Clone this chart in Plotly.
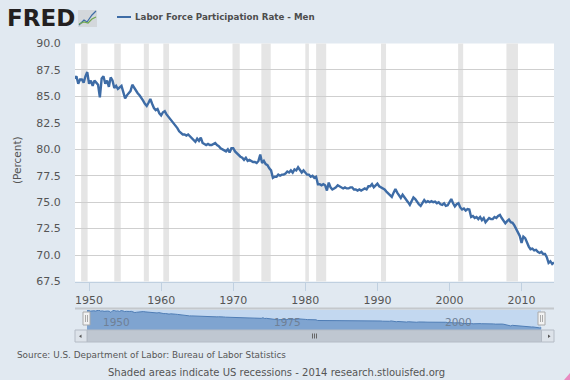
import plotly.graph_objects as go

W, H = 570, 380
START_YEAR = 1948
rate = [
 86.7,86.9,86.2,86.6, 86.6,86.3,86.9,87.3, 86.2,86.5,86.0,86.5, 86.3,86.1,84.9,86.7,
 86.9,86.2,86.5,85.9, 86.8,86.5,85.8,86.0, 85.7,85.9,86.0,85.4, 84.8,85.1,85.3,85.5,
 86.1,85.8,85.5,85.3, 85.1,84.9,84.6,84.3, 84.1,84.4,84.75,84.3, 83.9,83.7,83.8,83.4,
 83.2,83.5,83.6,83.3, 83.1,82.9,82.6,82.5, 82.3,82.0,81.7,81.5, 81.4,81.4,81.3,81.4,
 81.2,81.0,80.9,80.7, 81.0,80.8,81.1,80.6, 80.5,80.4,80.5,80.4, 80.4,80.5,80.6,80.4,
 80.3,80.1,80.0,79.9, 79.8,80.0,79.7,80.1, 80.1,79.8,79.6,79.4, 79.3,79.2,79.0,79.2,
 78.9,79.0,78.9,78.8, 78.8,78.7,78.9,79.5, 78.7,78.9,78.6,78.5, 78.2,78.0,77.3,77.4,
 77.4,77.6,77.5,77.6, 77.6,77.7,77.9,77.8, 78.0,77.8,78.1,78.0, 78.3,78.0,77.8,78.0,
 77.8,77.6,77.6,77.4, 77.5,77.3,77.4,76.7, 76.7,76.6,76.7,76.6, 76.1,76.85,76.4,76.2,
 76.3,76.4,76.6,76.5, 76.4,76.3,76.4,76.3, 76.3,76.4,76.4,76.2, 76.2,76.1,76.2,76.1,
 76.2,76.3,76.2,76.5, 76.5,76.7,76.4,76.6, 76.75,76.5,76.4,76.3, 76.2,76.0,75.8,75.6,
 75.5,75.9,76.25,75.9, 75.6,75.4,75.7,75.5, 75.2,75.0,74.75,75.1, 75.45,75.3,75.0,74.8,
 74.65,74.9,75.2,75.0, 75.1,75.0,75.1,75.0, 75.05,74.9,75.0,74.8, 74.75,74.9,74.65,74.7,
 75.0,75.3,74.9,74.6, 74.8,74.9,74.5,74.3, 74.4,74.2,74.35,74.3, 73.6,73.7,73.5,73.6,
 73.4,73.6,73.3,73.5, 73.1,73.3,73.5,73.4, 73.4,73.6,73.5,73.7, 73.8,73.5,73.2,73.0,
 73.2,73.35,73.1,73.05, 72.8,72.5,72.2,71.8, 71.15,71.75,71.6,71.1, 70.8,70.55,70.6,70.45,
 70.5,70.3,70.2,70.3, 70.1,70.1,69.8,69.25, 69.4,69.15,69.3,
]
years = [START_YEAR + i / 4 for i in range(len(rate))]
recession_start = [1948.9,1953.5,1957.6,1960.3,1969.9,1973.9,1980.0,1981.5,1990.5,2001.2,2007.9]
recession_end   = [1949.8,1954.4,1958.3,1961.1,1970.9,1975.2,1980.5,1982.9,1991.2,2001.9,2009.5]
x_ticks = [1950,1960,1970,1980,1990,2000,2010]
y_ticks = [67.5,70,72.5,75,77.5,80,82.5,85,87.5,90]
nav_ticks = [1950,1975,2000]
series_name = "Labor Force Participation Rate - Men"
source_text = "Source: U.S. Department of Labor: Bureau of Labor Statistics"
note_text = "Shaded areas indicate US recessions - 2014 research.stlouisfed.org"

BG = "#E1E9F1"; LINE = "#3E6CA6"; TXT = "#555555"; FONT = "DejaVu Sans"
px = lambda x: x / W
py = lambda y: 1 - y / H

fig = go.Figure()
fig.add_trace(go.Scatter(x=years, y=rate, mode="lines", name=series_name,
                         line=dict(color=LINE, width=2.4), showlegend=False))
fig.add_trace(go.Scatter(x=years, y=rate, mode="lines", xaxis="x2", yaxis="y2", showlegend=False,
                         line=dict(color="#4F7DB5", width=1), fill="tozeroy", fillcolor="#7FA4D0"))

shapes = []
for a, b in zip(recession_start, recession_end):
    shapes.append(dict(type="rect", xref="x", yref="y domain", x0=a, x1=b, y0=0, y1=1,
                       fillcolor="#E5E5E5", line_width=0, layer="below"))

def rect(x0, y0, x1, y1, fill, line=None, layer="above"):
    shapes.append(dict(type="rect", xref="paper", yref="paper", x0=px(x0), x1=px(x1), y0=py(y1), y1=py(y0),
                       fillcolor=fill, line=dict(color=line or fill, width=1 if line else 0), layer=layer))
def seg(x0, y0, x1, y1, color, width=1):
    shapes.append(dict(type="line", xref="paper", yref="paper", x0=px(x0), x1=px(x1), y0=py(y0), y1=py(y1),
                       line=dict(color=color, width=width)))
def poly(points, color=None, fill=None, width=1.2):
    path = "M " + " L ".join(f"{px(a):.5f},{py(b):.5f}" for a, b in points)
    if fill:
        path += " Z"
    shapes.append(dict(type="path", xref="paper", yref="paper", path=path, fillcolor=fill or "rgba(0,0,0,0)",
                       line=dict(color=color or "rgba(0,0,0,0)", width=width if color else 0)))

# navigator selection band
shapes.append(dict(type="rect", xref="x2", yref="y2 domain", x0=1948, x1=2014.5, y0=0, y1=1,
                   fillcolor="#C3D8F0", line_width=0, layer="below"))
seg(75, 308.5, 554, 308.5, "#C4C8CC", 2)
# scrollbar
rect(87, 330, 541.5, 342, "#BFC7D1", "#B4BBC5")
rect(75, 330, 87, 342, "#DDE3EA", "#B4BBC5")
rect(541.5, 330, 554, 342, "#DDE3EA", "#B4BBC5")
poly([(81.5, 334.5), (79, 336.3), (81.5, 338)], fill="#555555")
poly([(548, 334.5), (550.5, 336.3), (548, 338)], fill="#555555")
for gx in (312.5, 314.5, 316.5):
    seg(gx, 333.5, gx, 338.5, "#666666")
# navigator handles
for hx in (86.5, 541.5):
    rect(hx - 3.5, 312, hx + 3.5, 325, "#F2F2F2", "#AAAAAA")
    seg(hx - 1, 315, hx - 1, 322, "#AAAAAA")
    seg(hx + 1, 315, hx + 1, 322, "#AAAAAA")
# logo chart icon
rect(78, 10, 97, 27, "#D3D7DB")
poly([(79, 25), (84, 20), (87, 22), (92, 15), (96, 11)], color="#3E6CA6")
poly([(79, 24), (84, 22), (88, 23), (92, 19), (96, 17)], color="#6FA84F")
# legend key
seg(117, 17, 131, 17, LINE, 2)
# corner mark
poly([(564, 380), (570, 373), (570, 380)], fill="#E98AC0")

annotations = [
    dict(text="FRED", x=px(5), y=py(18), xref="paper", yref="paper", xanchor="left", yanchor="middle",
         showarrow=False, font=dict(family=FONT, size=23, color="#231F20", weight=700)),
    dict(text=series_name, x=px(133), y=py(17), xref="paper", yref="paper", xanchor="left", yanchor="middle",
         showarrow=False, font=dict(family=FONT, size=8.7, color="#4D4D4D", weight=700)),
    dict(text=source_text, x=px(15), y=py(355), xref="paper", yref="paper", xanchor="left", yanchor="middle",
         showarrow=False, font=dict(family=FONT, size=8.85, color=TXT)),
    dict(text=note_text, x=px(106), y=py(372), xref="paper", yref="paper", xanchor="left", yanchor="middle",
         showarrow=False, font=dict(family=FONT, size=10, color=TXT)),
    dict(text="(Percent)", x=px(17), y=py(160), xref="paper", yref="paper", xanchor="center", yanchor="middle",
         textangle=-90, showarrow=False, font=dict(family=FONT, size=10.5, color=TXT)),
]
for t in nav_ticks:
    annotations.append(dict(text=str(t), x=t, y=0.38, xref="x2", yref="y2 domain", xshift=16, xanchor="center",
                            yanchor="middle", showarrow=False, font=dict(family=FONT, size=10.5, color="#6F8095")))

fig.update_layout(
    width=W, height=H, autosize=False, margin=dict(l=0, r=0, t=0, b=0, autoexpand=False),
    paper_bgcolor=BG, plot_bgcolor="#FFFFFF", showlegend=False,
    font=dict(family=FONT, color=TXT, size=11),
    shapes=shapes, annotations=annotations,
    xaxis=dict(domain=[px(75), px(554)], range=[1948.05, 2014.5], anchor="y", tickvals=x_ticks,
               ticks="outside", ticklen=8, tickcolor="#C0D0E0", tickwidth=1, showgrid=False,
               showline=True, linecolor="#C0D0E0", linewidth=1, zeroline=False,
               tickfont=dict(family=FONT, size=11, color=TXT)),
    yaxis=dict(domain=[py(281.5), py(43.5)], range=[67.5, 90], anchor="x", tickvals=y_ticks, tickformat=".1f",
               ticks="outside", ticklen=11, tickcolor="rgba(0,0,0,0)", showgrid=True, gridcolor="#CFCFCF",
               gridwidth=1, zeroline=False, showline=False,
               tickfont=dict(family=FONT, size=11, color=TXT)),
    xaxis2=dict(domain=[px(87), px(541.5)], range=[1948, 2014.5], anchor="y2", visible=False),
    yaxis2=dict(domain=[py(330), py(310)], range=[67, 87.4], anchor="x2", visible=False),
)
fig.write_html("out.html", config=dict(displayModeBar=False),
               post_script="document.body.style.margin='0';document.body.style.overflow='hidden';")
